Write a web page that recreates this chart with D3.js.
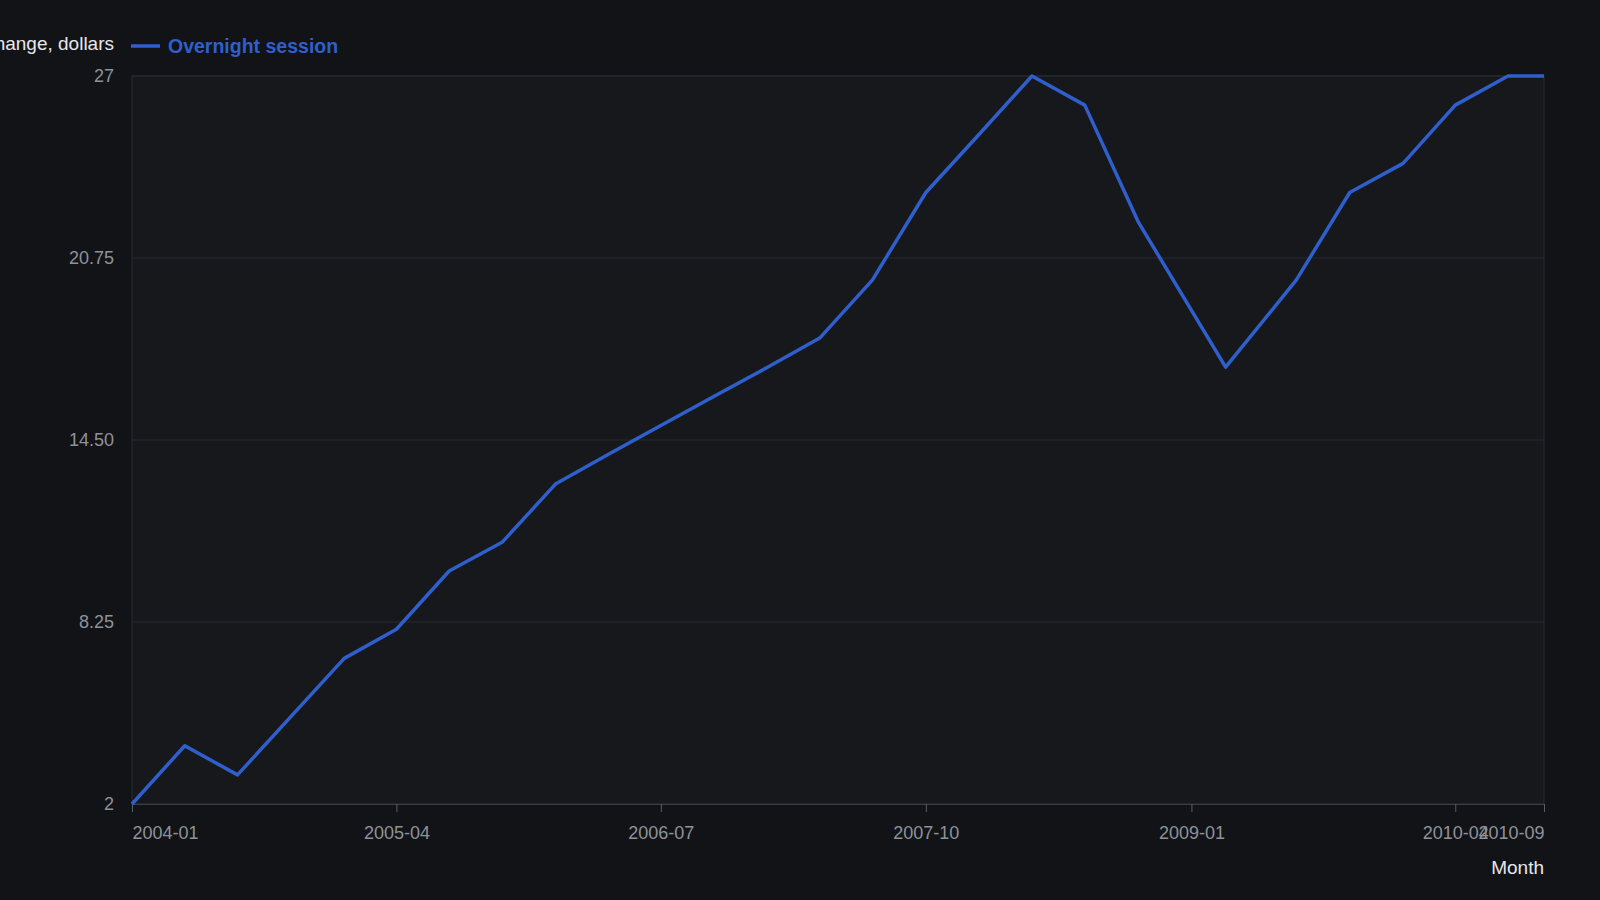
<!DOCTYPE html>
<html>
<head>
<meta charset="utf-8">
<script src="https://cdn.jsdelivr.net/npm/d3@7"></script>
<style>
  body { margin: 0; background: #111317; }
  svg { display: block; font-family: "Liberation Sans", Arial, sans-serif; }
</style>
</head>
<body>
<svg id="chart" width="1600" height="900"></svg>
<script>
// Overnight session price change, one point per reading
const months = [
  "2004-01", "2004-04", "2004-07", "2004-10", "2005-01", "2005-04", "2005-07",
  "2005-10", "2006-01", "2006-04", "2006-07", "2006-10", "2007-01", "2007-04",
  "2007-07", "2007-10", "2008-01", "2008-04", "2008-07", "2008-10", "2009-03",
  "2009-07", "2009-10", "2010-01", "2010-04", "2010-07", "2010-09"
];
const values = [
  2, 4, 3, 5, 7, 8, 10,
  11, 13, 14, 15, 16, 17, 18,
  20, 23, 25, 27, 26, 22, 17,
  20, 23, 24, 26, 27, 27
];
const yTicks = [2, 8.25, 14.5, 20.75, 27];
const xTickLabels = ["2004-01", "2005-04", "2006-07", "2007-10", "2009-01", "2010-04", "2010-09"];

const parse = d3.timeParse("%Y-%m");
const fmt = d3.timeFormat("%Y-%m");
const data = months.map((m, i) => ({ date: parse(m), value: values[i] }));

const svg = d3.select("#chart");
const margin = { left: 132, right: 56, top: 76, bottom: 96 };
const W = 1600, H = 900;

const x = d3.scaleTime()
  .domain([parse("2004-01"), parse("2010-09")])
  .range([margin.left, W - margin.right]);
const y = d3.scaleLinear()
  .domain([2, 27])
  .range([H - margin.bottom, margin.top]);

// plot background
svg.append("rect")
  .attr("x", margin.left).attr("y", margin.top)
  .attr("width", W - margin.left - margin.right)
  .attr("height", H - margin.top - margin.bottom)
  .attr("fill", "#16181c")
  .attr("stroke", "#2a2d33");

// gridlines
svg.append("g").selectAll("line").data(yTicks).join("line")
  .attr("x1", margin.left).attr("x2", W - margin.right)
  .attr("y1", d => y(d)).attr("y2", d => y(d))
  .attr("stroke", "#262930");

// y axis labels
svg.append("g").selectAll("text").data(yTicks).join("text")
  .attr("x", margin.left - 18).attr("y", d => y(d))
  .attr("dy", "0.35em").attr("text-anchor", "end")
  .attr("fill", "#8e9299").attr("font-size", 18)
  .text(d => d === 2 || d === 27 ? d : d3.format(".2f")(d));

// x axis
const xAxis = d3.axisBottom(x)
  .tickValues(xTickLabels.map(parse))
  .tickFormat(fmt)
  .tickSize(8)
  .tickPadding(14);
const gx = svg.append("g")
  .attr("transform", `translate(0,${H - margin.bottom})`)
  .call(xAxis);
gx.select(".domain").attr("stroke", "#3a3d44");
gx.selectAll(".tick line").attr("stroke", "#5a5e66");
gx.selectAll(".tick text")
  .attr("fill", "#8e9299").attr("font-size", 18)
  .attr("font-family", "Liberation Sans, Arial, sans-serif")
  .attr("text-anchor", (d, i) => i === 0 ? "start" : (i === xTickLabels.length - 1 ? "end" : "middle"));

// line
const line = d3.line().x(d => x(d.date)).y(d => y(d.value));
svg.append("path")
  .datum(data)
  .attr("fill", "none")
  .attr("stroke", "#2f5fcc")
  .attr("stroke-width", 3.5)
  .attr("stroke-linejoin", "round")
  .attr("d", line);

// titles and legend
svg.append("text")
  .attr("x", 114).attr("y", 50)
  .attr("text-anchor", "end")
  .attr("fill", "#e6e7ea").attr("font-size", 19)
  .text("Price change, dollars");
svg.append("line")
  .attr("x1", 131).attr("x2", 160).attr("y1", 46).attr("y2", 46)
  .attr("stroke", "#2f5fcc").attr("stroke-width", 3.5);
svg.append("text")
  .attr("x", 168).attr("y", 53)
  .attr("fill", "#2f5fcc").attr("font-size", 19.5).attr("font-weight", "bold")
  .text("Overnight session");
svg.append("text")
  .attr("x", W - margin.right).attr("y", 874)
  .attr("text-anchor", "end")
  .attr("fill", "#e6e7ea").attr("font-size", 19)
  .text("Month");
</script>
</body>
</html>
